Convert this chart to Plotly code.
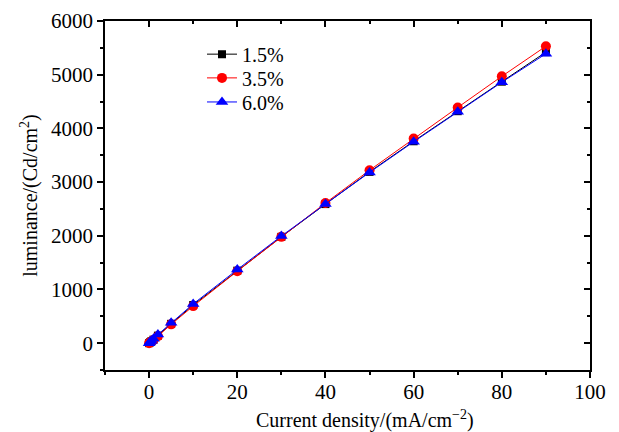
import plotly.graph_objects as go

x = [0, 0.2, 0.5, 1, 2, 5, 10, 20, 30, 40, 50, 60, 70, 80, 90]
y_15 = [0, 15, 35, 65, 140, 360, 710, 1350, 1980, 2590, 3190, 3760, 4320, 4870, 5420]
y_35 = [0, 12, 30, 60, 130, 350, 690, 1340, 1980, 2610, 3220, 3810, 4390, 4970, 5530]
y_60 = [0, 20, 45, 80, 160, 380, 730, 1370, 1995, 2590, 3180, 3750, 4310, 4860, 5390]
names = ["1.5%", "3.5%", "6.0%"]
colors = ["#000000", "#ff0000", "#0000ff"]
symbols = ["square", "circle", "triangle-up"]
sizes = [8, 10, 11]
legend_ids = ["legend", "legend2", "legend3"]
legend_y = [0.905, 0.837, 0.768]
x_title = "Current density/(mA/cm<sup>−2</sup>)"
y_title = "luminance/(Cd/cm<sup>2</sup>)"

x_range = [-10, 100]
y_range = [-500, 6000]

FONT = "Liberation Serif"

fig = go.Figure()
for ys, n, c, s, sz, lg in zip([y_15, y_35, y_60], names, colors, symbols, sizes, legend_ids):
    fig.add_trace(go.Scatter(
        x=x, y=ys, name=n, mode="lines+markers", legend=lg,
        line=dict(color=c, width=1),
        marker=dict(symbol=s, size=sz, color=c, line=dict(width=0)),
    ))

# invisible trace to anchor mirror axes
fig.add_trace(go.Scatter(x=[None], y=[None], xaxis="x2", yaxis="y2", showlegend=False))

axis_common = dict(
    showgrid=False, zeroline=False, showline=True, linecolor="black", linewidth=1.5,
    tickcolor="black", tickwidth=1.5, ticklen=6, automargin=False,
    tickfont=dict(family=FONT, size=21, color="black"),
)

legend_common = dict(
    x=0.2, xanchor="left", yanchor="middle",
    bgcolor="rgba(0,0,0,0)", font=dict(family=FONT, size=20), itemwidth=30,
)

fig.update_layout(
    width=611, height=424,
    margin=dict(l=97, r=29, t=13, b=62),
    paper_bgcolor="white", plot_bgcolor="white",
    font=dict(family=FONT, color="black"),
    xaxis=dict(
        range=x_range, dtick=20, ticks="outside", ticklabelstandoff=-4,
        minor=dict(ticks="outside", dtick=10, ticklen=3, tickwidth=1.5, tickcolor="black"),
        **axis_common,
    ),
    yaxis=dict(
        range=y_range, dtick=1000, ticks="outside",
        minor=dict(ticks="outside", dtick=500, ticklen=3, tickwidth=1.5, tickcolor="black"),
        title=dict(text=y_title, font=dict(family=FONT, size=20), standoff=8),
        **axis_common,
    ),
    xaxis2=dict(
        range=x_range, dtick=20, ticks="inside", overlaying="x", side="top", showticklabels=False,
        minor=dict(ticks="inside", dtick=10, ticklen=3, tickwidth=1.5, tickcolor="black"),
        showgrid=False, zeroline=False, showline=True, linecolor="black", linewidth=1.5,
        tickcolor="black", tickwidth=1.5, ticklen=6, automargin=False,
    ),
    yaxis2=dict(
        range=y_range, dtick=1000, ticks="inside", overlaying="y", side="right", showticklabels=False,
        minor=dict(ticks="inside", dtick=500, ticklen=3, tickwidth=1.5, tickcolor="black"),
        showgrid=False, zeroline=False, showline=True, linecolor="black", linewidth=1.5,
        tickcolor="black", tickwidth=1.5, ticklen=6, automargin=False,
    ),
    legend=dict(y=legend_y[0], **legend_common),
    legend2=dict(y=legend_y[1], **legend_common),
    legend3=dict(y=legend_y[2], **legend_common),
    annotations=[dict(
        text=x_title, xref="paper", yref="paper", x=0.536, y=-0.143,
        xanchor="center", yanchor="middle", showarrow=False,
        font=dict(family=FONT, size=20, color="black"),
    )],
)

fig.write_html("out.html")
